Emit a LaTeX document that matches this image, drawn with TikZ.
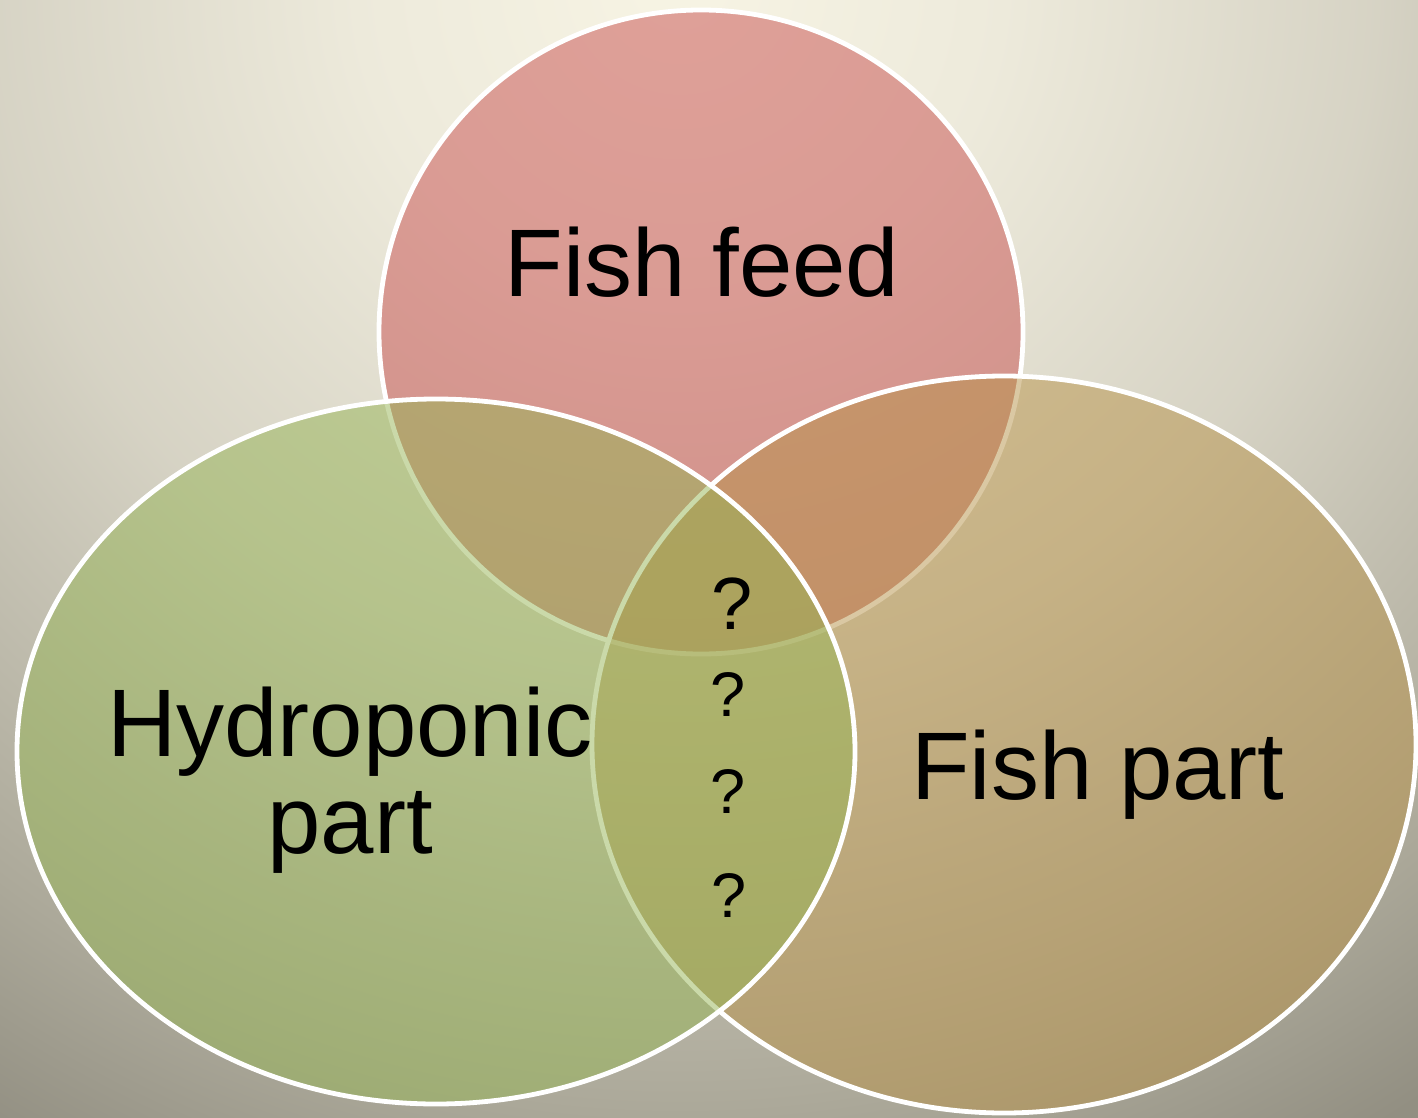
\documentclass[tikz,border=0pt]{standalone}
\usepackage{fontspec}
\setmainfont{Liberation Sans}
\pgfdeclareradialshading{bgrad}{\pgfpoint{0bp}{0bp}}{%
rgb(0bp)=(0.969,0.957,0.894);
rgb(6bp)=(0.93,0.918,0.86);
rgb(13bp)=(0.84,0.827,0.77);
rgb(21bp)=(0.675,0.663,0.604);
rgb(25bp)=(0.573,0.561,0.51);
rgb(50bp)=(0.573,0.561,0.51)}
\definecolor{pinkfill}{RGB}{200,78,78}
\definecolor{tanfill}{RGB}{183,146,72}
\definecolor{greenfill}{RGB}{150,180,85}
\definecolor{bgedge}{RGB}{146,143,130}
\tikzset{
  venn/.style={draw=white, line width=4.8pt, fill opacity=0.5},
  biglbl/.style={inner sep=0pt, text=black, font=\fontsize{96}{97}\selectfont},
  qlbl/.style={inner sep=0pt, text=black, anchor=base},
}
\begin{document}
\begin{tikzpicture}[x=1pt,y=-1pt]
\useasboundingbox (0,0) rectangle (1418,1118);
\begin{scope}
\clip (0,0) rectangle (1418,1118);
\fill[bgedge] (0,0) rectangle (1418,1118);
\shade[shading=bgrad] (680,-20) circle (1340pt);
\end{scope}
% Venn shapes: pink first, tan second, green on top
\path[venn, fill=pinkfill] (701,332) circle (322pt);
\path[venn, fill=tanfill] (1004,744.5) ellipse [x radius=412pt, y radius=368.5pt];
\path[venn, fill=greenfill] (436,751.5) ellipse [x radius=419pt, y radius=352.5pt];
% labels
\node[biglbl, anchor=base] (feed) at (702,296) {Fish feed};
\node[biglbl, anchor=base, align=center] (hydro) at (350,853) {Hydroponic\\part};
\node[biglbl, anchor=base] (fish) at (1098,799) {Fish part};
\node[qlbl, font=\fontsize{74}{74}\selectfont] (q1) at (732,629) {?};
\node[qlbl, font=\fontsize{63}{63}\selectfont] (q2) at (728,716) {?};
\node[qlbl, font=\fontsize{63}{63}\selectfont] (q3) at (728,813) {?};
\node[qlbl, font=\fontsize{63}{63}\selectfont] (q4) at (729,917) {?};
\end{tikzpicture}
\end{document}
